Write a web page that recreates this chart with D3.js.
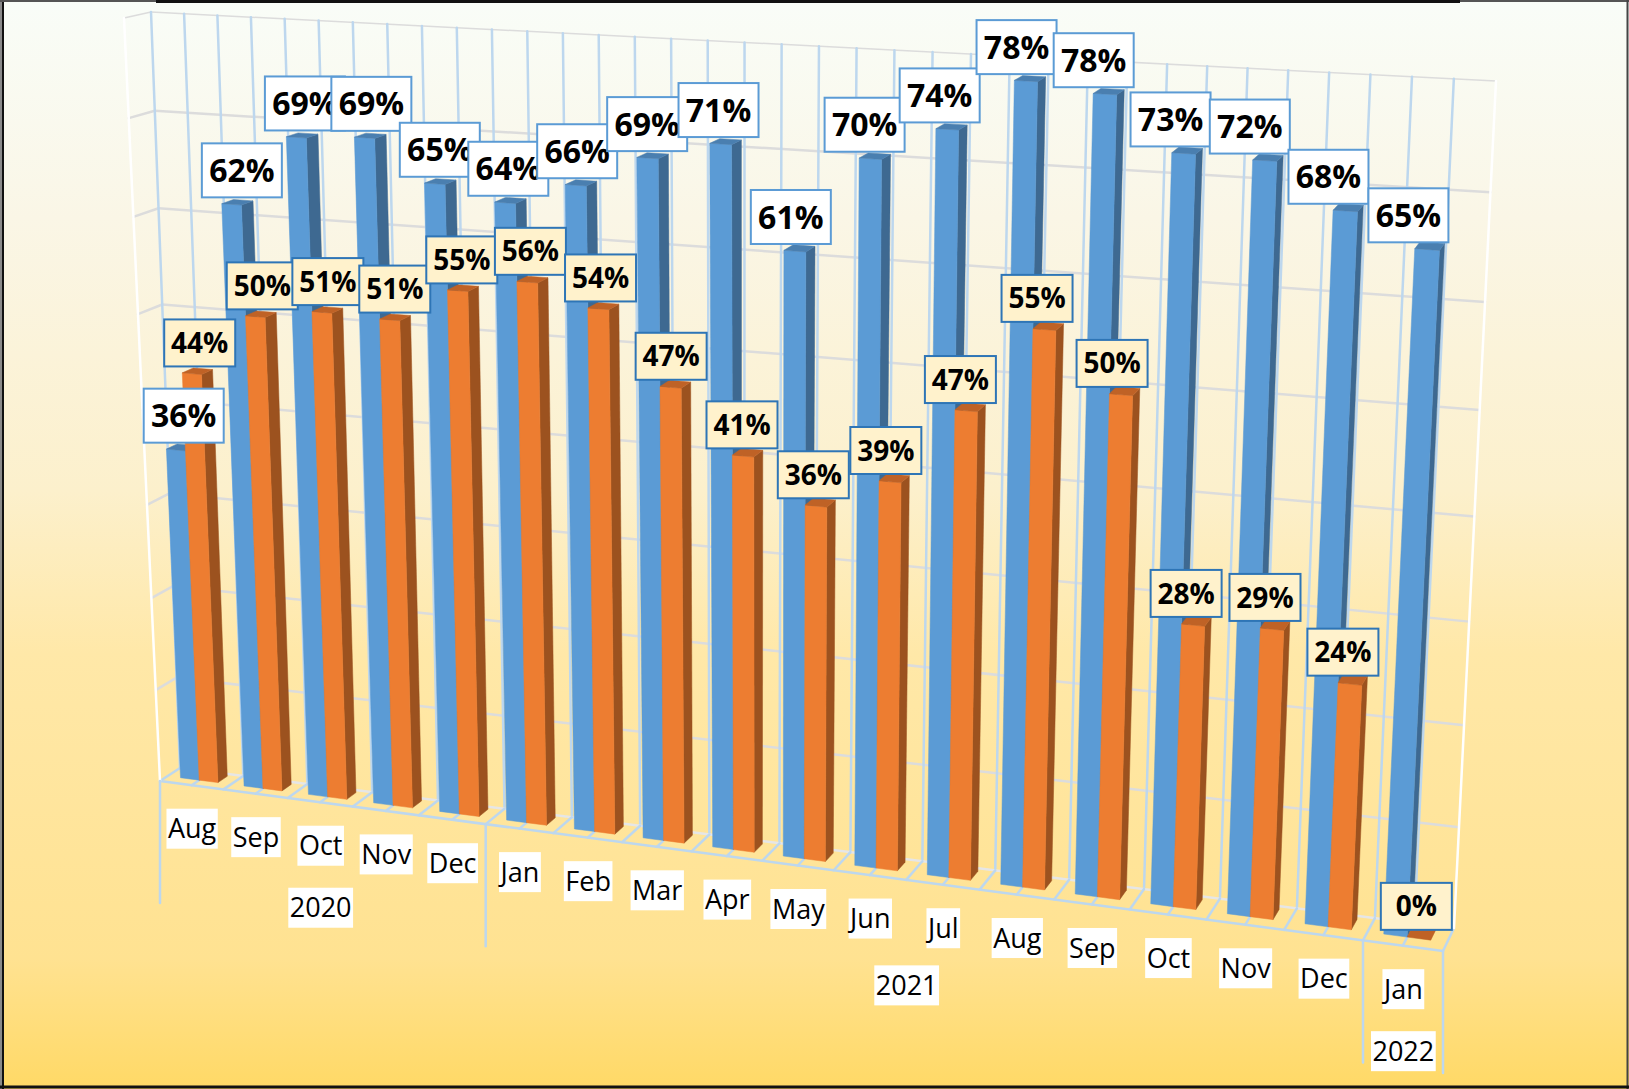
<!DOCTYPE html>
<html><head><meta charset="utf-8">
<script src="https://cdn.jsdelivr.net/npm/d3@7/dist/d3.min.js"></script>
<style>html,body{margin:0;padding:0;background:#fff}svg{display:block}</style></head>
<body><svg id="c" width="1629" height="1089"></svg>
<script>
const months=["Aug","Sep","Oct","Nov","Dec","Jan","Feb","Mar","Apr","May","Jun","Jul","Aug","Sep","Oct","Nov","Dec","Jan"];
const seriesBlue=[35.6,61.6,68.8,69.2,65.1,63.7,65.9,69,70.8,61,70.3,73.5,78.4,77.6,72.6,72.4,68.3,65.3];
const seriesOrange=[43.8,50.3,51.3,51.1,54.6,56,53.9,46.7,40.5,36.2,39.3,46.9,55.3,49.7,28.2,28.6,24.1,0];
const years=["2020","2021","2022"];
const yearSpans=[[0,5],[5,17],[17,18]];
const valueTicks=[0,10,20,30,40,50,60,70,80];

const W=1629,H=1089;
const svg=d3.select("#c");
function solve(A,b){const n=b.length;const M=A.map((r,i)=>[...r,b[i]]);
 for(let i=0;i<n;i++){let p=i;for(let k=i+1;k<n;k++)if(Math.abs(M[k][i])>Math.abs(M[p][i]))p=k;
  [M[i],M[p]]=[M[p],M[i]];
  for(let k=0;k<n;k++)if(k!==i){const f=M[k][i]/M[i][i];for(let j=i;j<=n;j++)M[k][j]-=f*M[i][j];}}
 return M.map((r,i)=>r[n]/r[i]);}
function homography(q){
 const uv=[[0,0],[1,0],[1,1],[0,1]],A=[],b=[];
 uv.forEach(([u,v],i)=>{const [x,y]=q[i];
  A.push([u,v,1,0,0,0,-u*x,-v*x]);b.push(x);
  A.push([0,0,0,u,v,1,-u*y,-v*y]);b.push(y);});
 const h=solve(A,b);
 return (u,v)=>{const w=h[6]*u+h[7]*v+1;return [(h[0]*u+h[1]*v+h[2])/w,(h[3]*u+h[4]*v+h[5])/w];};}
const back=homography([[180,768],[1454,928],[1496,81],[151,12]]);
const front=homography([[160,781],[1443,951],[1486,93],[124,18]]);
function P(u,v,z){const a=front(u,v),b=back(u,v);return [a[0]+(b[0]-a[0])*z,a[1]+(b[1]-a[1])*z];}

const idx=d3.range(months.length);
const xCat=d3.scaleBand().domain(idx).range([0,1]).paddingInner(0.41).paddingOuter(0.205);
const xSer=d3.scaleBand().domain(["blue","orange"]).range([0,xCat.bandwidth()]);
const xEdge=d3.scaleLinear().domain([0,months.length]).range([0,1]);
const yVal=d3.scaleLinear().domain([0,80]).range([0,1]);
const zBar=d3.scaleLinear().domain([0,1]).range([0.38,0.85]);
const line=d3.line();

const defs=svg.append("defs");
const g=defs.append("linearGradient").attr("id","bg").attr("x1",0).attr("y1",0).attr("x2",0).attr("y2",1);
[[0,"#F9FDF8"],[0.2,"#FAF6E6"],[0.45,"#FCF0CC"],[0.6,"#FFE8A8"],[0.88,"#FFE291"],[1,"#FFD966"]].forEach(([o,c])=>g.append("stop").attr("offset",o).attr("stop-color",c));
svg.append("rect").attr("width",W).attr("height",H).attr("fill","url(#bg)");

const grid=svg.append("g").attr("fill","none").attr("stroke-linecap","round");
const seg=(a,b,c,w)=>grid.append("path").attr("d",line([a,b])).attr("stroke",c).attr("stroke-width",w);
const GREY="#DCDCDC",BLUE="#BDD7EE";
valueTicks.forEach(t=>{const v=yVal(t);if(t===0)return;
 seg(P(0,v,1),P(1,v,1),GREY,t===80?1.5:2.5);
 seg(P(0,v,0),P(0,v,1),GREY,t===80?1.5:2.5);});
d3.range(1,months.length*2).forEach(k=>{const u=xEdge(k/2);seg(P(u,0,1),P(u,1,1),BLUE,2.5);});
seg(P(0,0,1),P(1,0,1),"#E6E6E6",2.5);
seg(P(0,0,0),P(0,0,1),BLUE,2.5);
d3.range(1,months.length*2+1).forEach(k=>{const u=xEdge(k/2);seg(P(u,0,0),P(u,0,1),BLUE,2.5);});
seg(P(0,0,0),P(1,0,0),BLUE,2.5);
seg(P(0,0,0),P(0,1,0),"#FFFFFF",2.5);
seg(P(0,0,1),P(0,1,1),BLUE,2.5);
seg(P(1,0,1),P(1,1,1),"#FFFFFF",2.5);
[0,5,17,18].forEach(k=>{const a=P(xEdge(k),0,0);seg(a,[a[0],a[1]+122],BLUE,2.5);});

const bars=svg.append("g");
const colours={blue:{face:"#5B9BD5",side:"#3E6991",top:"#4A7FB0"},orange:{face:"#ED7D31",side:"#9C521F",top:"#BF6226"}};
function bar(i,name,val){
 const x0=xCat(i)+xSer(name),x1=x0+xSer.bandwidth();
 const v=yVal(val),z0=zBar(0),z1=zBar(1),c=colours[name];
 const poly=(pts,fill)=>bars.append("path").attr("d",line(pts)+"Z").attr("fill",fill).attr("stroke",fill).attr("stroke-width",0.5);
 if(val>0){poly([P(x1,0,z0),P(x1,0,z1),P(x1,v,z1),P(x1,v,z0)],c.side);
 poly([P(x0,0,z0),P(x1,0,z0),P(x1,v,z0),P(x0,v,z0)],c.face);}
 poly([P(x0,v,z0),P(x1,v,z0),P(x1,v,z1),P(x0,v,z1)],c.top);
 return P((x0+x1)/2,v,0.5);
}
const tops={blue:[],orange:[]};
idx.forEach(i=>{tops.blue[i]=bar(i,"blue",seriesBlue[i]);tops.orange[i]=bar(i,"orange",seriesOrange[i]);});

const labels=svg.append("g").attr("font-family","'Open Sans'").attr("font-weight",700).attr("text-anchor","middle").attr("fill","#000");
function label(cx,cy,w,h,txt,fill,stroke,fs){
 labels.append("rect").attr("x",cx-w/2).attr("y",cy-h/2).attr("width",w).attr("height",h).attr("fill",fill).attr("stroke",stroke).attr("stroke-width",2);
 labels.append("text").attr("x",cx).attr("y",cy).attr("dy","0.36em").attr("font-size",fs).text(txt);
}
const fmt=v=>Math.round(v)+"%";
const dxBlue=d3.scaleLinear().domain([0,17]).range([9,-20]);
const dyBlue=d3.scaleLinear().domain([0,17]).range([-33,-32.5]);
const dxOrange=d3.scaleLinear().domain([0,6,13,14,16]).range([5,-0.4,-10.8,-8.7,-8.5]);
idx.forEach(i=>{const t=tops.blue[i];label(t[0]+dxBlue(i)-(i===0?4:0),t[1]+dyBlue(i),80,54,fmt(seriesBlue[i]),"#FFFFFF","#5B9BD5",32);});
idx.forEach(i=>{const t=tops.orange[i];label(t[0]+(i===17?-4:dxOrange(i)),t[1]-29.5,71,47,fmt(seriesOrange[i]),"#FFF2CC","#2E75B6",28);});

const axis=svg.append("g").attr("font-family","'Open Sans'").attr("font-size",27).attr("text-anchor","middle").attr("fill","#000");
function axisLabel(cx,cy,txt){
 const bg=axis.append("rect");
 const t=axis.append("text").attr("x",cx).attr("y",cy).attr("dy","0.36em").text(txt);
 const w=t.node().getComputedTextLength()+3;
 bg.attr("x",cx-w/2).attr("y",cy-20).attr("width",w).attr("height",40).attr("fill","#fff");
}
idx.forEach(i=>{const a=P(xEdge(i+0.5),0,0);axisLabel(a[0]+0.5,a[1]+43.5,months[i]);});
years.forEach((y,j)=>{const m=(yearSpans[j][0]+yearSpans[j][1])/2;const a=P(xEdge(m),0,0);axisLabel(a[0]+0.5,a[1]+105.5,y);});

// frame
const frame=svg.append("g");
const fl=(x1,y1,x2,y2,c,w)=>frame.append("line").attr("x1",x1).attr("y1",y1).attr("x2",x2).attr("y2",y2).attr("stroke",c).attr("stroke-width",w);
fl(1,0,1,H,"#8A8A8A",2);
fl(3,0,3,H,"#111",2);
fl(0,1,W,1,"#555",2);
fl(156,1.5,1460,1.5,"#111",3);
fl(W-1.5,0,W-1.5,H,"#444",2);
fl(0,H-2,W,H-2,"#111",3);
</script></body></html>
